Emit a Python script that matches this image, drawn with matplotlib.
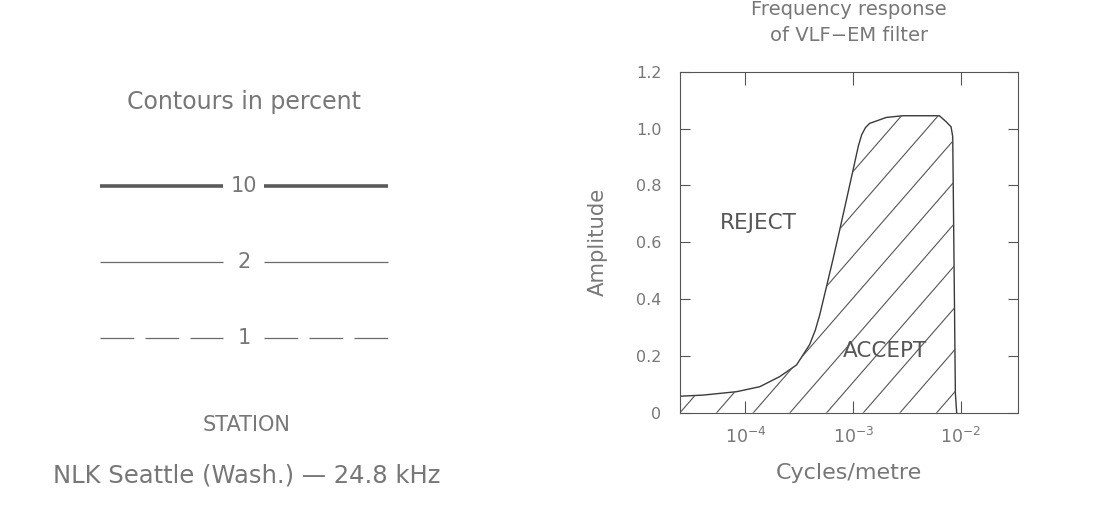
import numpy as np
import matplotlib
matplotlib.use("Agg")
import matplotlib.pyplot as plt
from matplotlib.patches import Polygon
from matplotlib.lines import Line2D

# ---------------- data ----------------
freq = [2.47e-5, 4.06e-5, 8.3e-5, 1.36e-4, 2.08e-4, 2.98e-4, 3.95e-4, 4.45e-4,
        4.9e-4, 5.65e-4, 6.5e-4, 7.5e-4, 8.65e-4, 9.98e-4, 1.12e-3, 1.2e-3,
        1.3e-3, 1.42e-3, 2.03e-3, 2.89e-3, 6.32e-3, 7.29e-3, 8.11e-3, 8.4e-3,
        8.6e-3, 8.89e-3, 9.14e-3]
amplitude = [0.058, 0.062, 0.074, 0.0915, 0.127, 0.168, 0.240, 0.290,
             0.345, 0.443, 0.540, 0.643, 0.748, 0.854, 0.940, 0.978,
             1.003, 1.018, 1.039, 1.045, 1.045, 1.024, 1.006, 0.971,
             0.600, 0.068, 0.0]
y_ticks = [0, 0.2, 0.4, 0.6, 0.8, 1.0, 1.2]
y_tick_labels = ["0", "0.2", "0.4", "0.6", "0.8", "1.0", "1.2"]
x_ticks = [1e-4, 1e-3, 1e-2]
x_limits = [2.47e-5, 3.39e-2]

contour_levels = ["10", "2", "1"]
contour_styles = [dict(lw=2.6, color="#5a5a5a", ls="-"),
                  dict(lw=0.9, color="#6a6a6a", ls="-"),
                  dict(lw=0.9, color="#6a6a6a", ls=(0, (27, 9)))]
legend_title = "Contours in percent"
station_head = "STATION"
station_name = "NLK Seattle (Wash.) \u2014 24.8 kHz"

TXT = "#777777"
INK = "#3a3a3a"

fig = plt.figure(figsize=(11.09, 5.14), dpi=100)

# ---------------- left panel (legend) ----------------
axl = fig.add_axes([0, 0, 0.45, 1])
axl.set_xlim(0, 499)
axl.set_ylim(514, 0)
axl.axis("off")
cx = 244
axl.text(cx, 102, legend_title, ha="center", va="center", fontsize=17, color=TXT)
row_y0, row_dy = 186, 76
for i, (lev, st) in enumerate(zip(contour_levels, contour_styles)):
    y = row_y0 + i * row_dy
    axl.plot([100, 223], [y, y], solid_capstyle="butt", dash_capstyle="butt", **st)
    axl.plot([264, 388], [y, y], solid_capstyle="butt", dash_capstyle="butt", **st)
    axl.text(cx, y, lev, ha="center", va="center", fontsize=15, color=TXT)
axl.text(cx + 3, 425, station_head, ha="center", va="center", fontsize=15, color=TXT)
axl.text(cx + 3, 475, station_name, ha="center", va="center", fontsize=17.5, color=TXT)

# ---------------- right panel (filter response) ----------------
ax = fig.add_axes([680 / 1109, 1 - 412.7 / 514, 338 / 1109, 341 / 514])
ax.set_xscale("log")
ax.set_xlim(*x_limits)
ax.set_ylim(0, 1.2)

# closed region under the curve
verts = [(freq[0], 0.0)] + list(zip(freq, amplitude)) + [(freq[-1], 0.0)]
region = Polygon(verts, closed=True, facecolor="none", edgecolor="none")
ax.add_patch(region)
ax.plot(freq, amplitude, color=INK, lw=1.0)

# hatching, clipped to the region
spacing = 0.1085
slope = 1.14
for k in range(-12, 12):
    x0 = k * spacing
    ln = Line2D([x0, x0 + 1.0 / slope], [0, 1], transform=ax.transAxes,
                color="#555555", lw=0.8)
    ax.add_line(ln)
    ln.set_clip_path(region)

ax.set_yticks(y_ticks)
ax.set_yticklabels(y_tick_labels)
ax.set_xticks(x_ticks)
ax.xaxis.set_minor_locator(matplotlib.ticker.NullLocator())
ax.tick_params(axis="both", which="major", direction="in", top=True, right=True,
               width=0.8, color="#555555", labelcolor=TXT)
ax.tick_params(axis="y", pad=13.5, length=7, labelsize=11.5)
ax.tick_params(axis="x", pad=10, length=9, labelsize=12.5)
for s in ax.spines.values():
    s.set_color("#555555")
    s.set_linewidth(0.8)

ax.text(5.8e-5, 0.668, "REJECT", ha="left", va="center", fontsize=15.5, color="#555555")
ax.text(8.1e-4, 0.217, "ACCEPT", ha="left", va="center", fontsize=15.5, color="#555555")

ax.set_title("Frequency response\nof VLF\u2212EM filter", fontsize=14, color=TXT,
             pad=22, linespacing=1.45)
ax.set_xlabel("Cycles/metre", fontsize=16, color=TXT)
ax.xaxis.set_label_coords(0.5, -0.176)
ax.xaxis.label.set_va("center")
ax.set_ylabel("Amplitude", fontsize=15.3, color=TXT)
ax.yaxis.set_label_coords(-0.243, 0.5)
ax.yaxis.label.set_va("center")

fig.savefig("out.png", dpi=100, facecolor="white")
